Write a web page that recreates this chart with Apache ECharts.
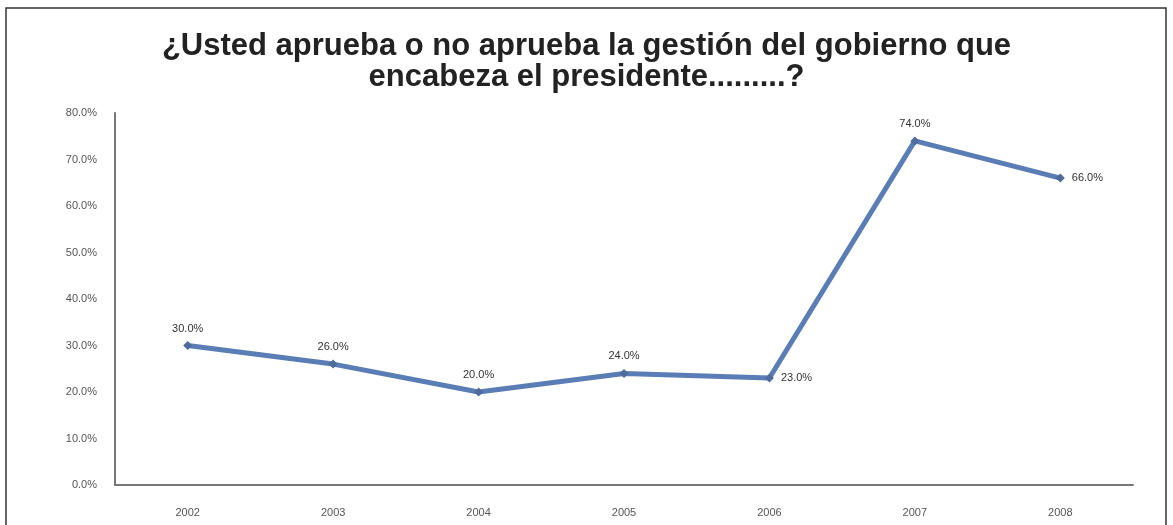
<!DOCTYPE html>
<html>
<head>
<meta charset="utf-8">
<script src="https://cdn.jsdelivr.net/npm/echarts@6/dist/echarts.min.js"></script>
<style>
  html, body { margin: 0; padding: 0; background: #fff; }
  #chart { width: 1173px; height: 525px; }
</style>
</head>
<body>
<div id="chart"></div>
<script>
// data
var years = ['2002', '2003', '2004', '2005', '2006', '2007', '2008'];
var aprueba = [30, 26, 20, 24, 23, 74, 66];
var labelPos = ['top', 'top', 'top', 'top', 'right', 'top', 'right'];
var titleText = '¿Usted aprueba o no aprueba la gestión del gobierno que\nencabeza el presidente.........?';

var chart = echarts.init(document.getElementById('chart'));

var points = aprueba.map(function (v, i) {
    return {
        value: v,
        label: { position: labelPos[i] }
    };
});

chart.setOption({
    animation: false,
    backgroundColor: '#fff',
    title: {
        text: titleText,
        left: 'center',
        top: 26,
        textStyle: {
            fontFamily: 'Liberation Sans, Arial, sans-serif',
            fontSize: 31,
            fontWeight: 'bold',
            color: '#222',
            lineHeight: 31
        }
    },
    graphic: [{
        type: 'rect',
        shape: { x: 6, y: 8, width: 1160, height: 530 },
        style: { fill: 'none', stroke: '#333', lineWidth: 1.5 },
        silent: true
    }],
    grid: {
        left: 115,
        right: 40,
        top: 113,
        bottom: 40
    },
    xAxis: {
        type: 'category',
        data: years,
        boundaryGap: true,
        axisLine: { lineStyle: { color: '#777', width: 2 } },
        axisTick: { show: false },
        axisLabel: {
            margin: 22,
            fontSize: 11,
            color: '#555',
            fontFamily: 'Liberation Sans, Arial, sans-serif'
        }
    },
    yAxis: {
        type: 'value',
        min: 0,
        max: 80,
        interval: 10,
        axisLine: { show: true, lineStyle: { color: '#777', width: 2 } },
        axisTick: { show: false },
        splitLine: { show: false },
        axisLabel: {
            margin: 18,
            fontSize: 11,
            color: '#555',
            fontFamily: 'Liberation Sans, Arial, sans-serif',
            formatter: function (v) { return v.toFixed(1) + '%'; }
        }
    },
    series: [{
        type: 'line',
        data: points,
        symbol: 'diamond',
        symbolSize: 9,
        lineStyle: { color: '#5b7db5', width: 5 },
        itemStyle: { color: '#4e6b9c' },
        label: {
            show: true,
            fontSize: 11,
            color: '#333',
            distance: 7,
            fontFamily: 'Liberation Sans, Arial, sans-serif',
            formatter: function (p) { return p.value.toFixed(1) + '%'; }
        }
    }]
});
</script>
</body>
</html>
